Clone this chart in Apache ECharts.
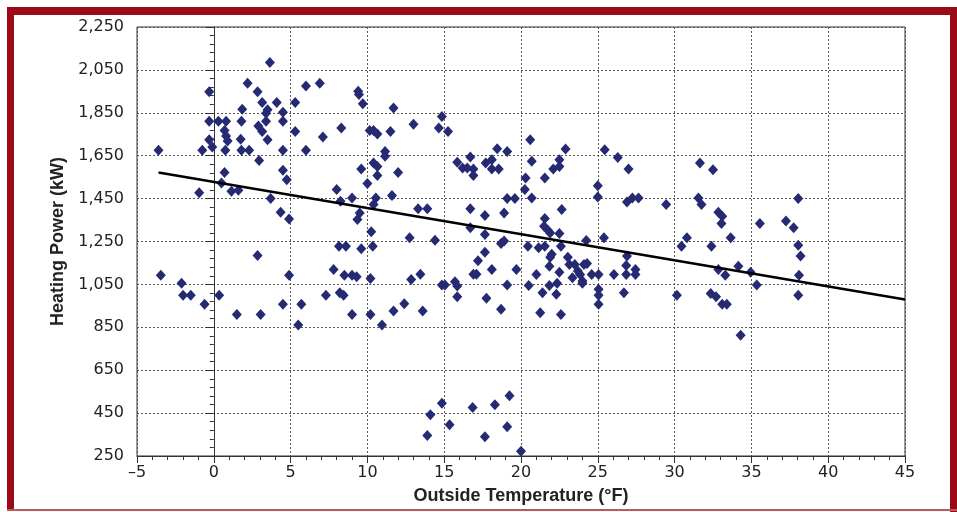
<!DOCTYPE html>
<html>
<head>
<meta charset="utf-8">
<title>Heating Power vs Outside Temperature</title>
<script src="https://cdn.jsdelivr.net/npm/echarts@6/dist/echarts.min.js"></script>
<style>
  html, body { margin: 0; padding: 0; background: #fff; }
  #chart { width: 957px; height: 512px; }
</style>
</head>
<body>
<div id="chart"></div>
<script>
// outside temperature (°F) of each reading
const tempF = [
  -3.6, -0.75, -0.95, -0.3, -0.3, -0.3, -0.1, 0.3, 0.8, 0.7, 0.8, 0.9, 0.75, 0.7, 0.5, 1.15, 1.6,
  1.85, 1.8, 1.75, 1.8, 2.3, 2.2, 2.85, 3.15, 2.9, 3.15, 3.5, 3.4, 3.4, 3.5, 2.95, 3.65, 4.1, 4.5,
  4.5, 4.5, 4.5, 4.75, 3.7, 4.35, 4.9, 5.3, 5.3, 6.0, 6.9, 6.0, 7.1, 2.85,
  -3.45, -2.1, -2.0, -1.5, -0.6, 0.35, 1.5, 3.05, 4.5, 4.9, 5.7, 5.5, 7.3,
  9.4, 9.45, 9.7, 11.7, 8.3, 10.15, 10.4, 10.65, 11.5, 13.0, 14.85, 14.65, 15.25, 11.15, 11.15,
  10.4, 10.65, 9.6, 12.0, 10.65, 10.0, 8.0, 8.25, 9.0, 10.55, 10.4, 11.6, 9.5, 9.35, 10.25, 12.75,
  14.4, 10.35, 9.6, 8.15, 8.6, 13.3, 13.9, 15.85, 16.2, 16.7, 16.5, 16.9, 16.9, 17.7, 18.1, 18.1,
  18.55, 18.45, 19.1, 16.7, 17.65, 16.7, 17.65, 18.9, 19.1, 19.6, 18.9, 18.7, 17.65, 17.2,
  7.8, 8.5, 9.0, 9.3, 10.2, 8.2, 8.45, 9.0, 10.2, 10.95, 11.7, 12.4, 12.85, 13.45, 13.6, 14.85,
  15.05, 15.7, 15.85, 15.85, 16.9, 17.1, 18.1, 17.75, 18.7, 19.1, 19.7, 14.85, 14.1, 13.9, 15.35,
  16.85, 17.65, 18.3, 19.25, 19.1,
  20.5, 21.4, 21.85, 22.35, 22.3, 24.0, 21.25, 22.6, 25.05, 25.05, 25.05, 26.7, 30.15, 32.35,
  32.7, 20.0,
  20.6, 22.9, 20.7, 22.5, 22.5, 22.1, 20.3, 21.55, 20.25, 20.7, 22.65, 25.45, 26.3, 27.0, 25.0,
  25.0, 26.9, 27.25, 27.65, 29.45, 31.65, 31.55, 31.75, 21.55, 21.5, 21.75, 21.9, 22.5, 24.25,
  25.4, 20.45, 21.15, 21.55, 22.6, 22.0, 21.9, 21.85, 23.05, 23.15, 23.5, 24.1, 24.3, 23.7,
  23.85, 23.35, 24.0, 24.6, 25.05, 22.5, 21.0, 26.9, 26.85, 27.45, 26.85, 27.45, 26.05, 30.45,
  30.8,
  32.5, 32.85, 33.1, 33.05, 33.65, 32.4, 35.55, 37.25, 37.75, 38.05, 38.05, 38.2, 38.1, 38.05,
  34.15, 34.95, 35.35, 32.85, 33.3, 33.1, 33.4, 34.3
];

// heating power (kW) of each reading, same order as tempF
const powerKW = [
  1675, 1675, 1477, 1948, 1811, 1724, 1690, 1811, 1811, 1768, 1742, 1718, 1675, 1572, 1523, 1484, 1489,
  1867, 1811, 1727, 1675, 1675, 1988, 1948, 1898, 1789, 1763, 1864, 1848, 1811, 1724, 1628, 2084, 1898, 1853,
  1811, 1675, 1582, 1538, 1450, 1386, 1355, 1898, 1763, 1975, 1988, 1675, 1737, 1185,
  1093, 1055, 999, 999, 957, 999, 910, 910, 957, 1093, 957, 861, 999,
  1950, 1935, 1892, 1872, 1779, 1768, 1768, 1751, 1763, 1797, 1833, 1779, 1763, 1670, 1647,
  1616, 1600, 1588, 1572, 1558, 1520, 1492, 1438, 1453, 1453, 1422, 1465, 1383, 1352, 1295, 1267,
  1256, 1228, 1216, 1228, 1228, 1403, 1403, 1620, 1593, 1644, 1593, 1588, 1558, 1616, 1631, 1588,
  1588, 1682, 1670, 1403, 1371, 1314, 1283, 1383, 1450, 1450, 1252, 1241, 1200, 1160,
  1120, 1093, 1093, 1086, 1078, 1011, 999, 910, 910, 861, 926, 960, 1073, 1097, 926, 1047,
  1047, 1062, 1042, 993, 1097, 1097, 1120, 985, 934, 1047, 1120, 496, 442, 345, 396,
  476, 340, 489, 531, 386,
  1045, 1011, 1045, 1055, 1004, 1055, 918, 910, 1027, 999, 957, 1011, 999, 1008,
  993, 272,
  1724, 1681, 1624, 1631, 1600, 1588, 1546, 1546, 1492, 1453, 1399, 1678, 1642, 1588, 1510,
  1458, 1434, 1453, 1453, 1422, 1616, 1453, 1422, 1357, 1321, 1303, 1290, 1287, 1255,
  1267, 1228, 1221, 1228, 1228, 1190, 1177, 1135, 1177, 1143, 1143, 1143, 1148, 1112,
  1096, 1081, 1066, 1096, 1096, 1107, 1096, 1182, 1138, 1120, 1096, 1096, 1096, 1228,
  1267,
  1585, 1386, 1368, 1334, 1267, 1228, 1334, 1345, 1314, 1450, 1233, 1182, 1093, 999,
  1135, 1107, 1047, 1120, 1093, 957, 957, 813
];

// linear trend line, read at its two ends
const trendTemp = [-3.6, 45];
const trendPower = [1572, 980];

// axis ranges / ticks
const xTicks = { min: -5, max: 45, step: 5 };
const yTicks = { min: 250, max: 2250, step: 200 };

const points = tempF.map((t, i) => [t, powerKW[i]]);
const trend = trendTemp.map((t, i) => [t, trendPower[i]]);

const frameColor = '#9b0a17';
const axisColor = '#333';
const labelFont = 'DejaVu Sans';
const titleFont = 'Liberation Sans, Arial, sans-serif';

let chart = echarts.init(document.getElementById('chart'), null, { renderer: 'canvas' });

chart.setOption({
    animation: false,
    backgroundColor: '#fff',
    // red frame round the figure
    graphic: [
        { type: 'rect', shape: { x: 7, y: 7, width: 950, height: 8 }, style: { fill: frameColor }, silent: true },
        { type: 'rect', shape: { x: 7, y: 7, width: 7, height: 504 }, style: { fill: frameColor }, silent: true },
        { type: 'rect', shape: { x: 950, y: 7, width: 7, height: 505 }, style: { fill: frameColor }, silent: true },
        { type: 'rect', shape: { x: 7, y: 509, width: 950, height: 2 }, style: { fill: '#b85a60' }, silent: true }
    ],
    grid: {
        left: 137,
        right: 52,
        top: 27,
        bottom: 56,
        show: true,
        borderColor: axisColor,
        borderWidth: 1
    },
    xAxis: {
        type: 'value',
        min: xTicks.min,
        max: xTicks.max,
        interval: xTicks.step,
        name: 'Outside Temperature (°F)',
        nameLocation: 'middle',
        nameGap: 31,
        nameTextStyle: { fontFamily: titleFont, fontWeight: 'bold', fontSize: 18, color: '#222' },
        axisLine: { show: true, lineStyle: { color: axisColor, width: 1 } },
        axisTick: { show: true, inside: false, length: 7, lineStyle: { color: axisColor } },
        minorTick: { show: true, splitNumber: 5, length: 4, lineStyle: { color: axisColor } },
        splitLine: { show: true, lineStyle: { color: '#555', type: [2, 2], width: 1 } },
        axisLabel: {
            fontFamily: labelFont,
            fontSize: 16,
            color: '#222',
            margin: 9,
            formatter: v => (v < 0 ? '\u2013' + Math.abs(v) : String(v))
        }
    },
    yAxis: {
        type: 'value',
        min: yTicks.min,
        max: yTicks.max,
        interval: yTicks.step,
        name: 'Heating Power (kW)',
        nameLocation: 'middle',
        nameGap: 62,
        nameTextStyle: { fontFamily: titleFont, fontWeight: 'bold', fontSize: 18, color: '#222' },
        axisLine: { show: true, lineStyle: { color: axisColor, width: 1 } },
        axisTick: { show: true, inside: false, length: 8, lineStyle: { color: axisColor } },
        minorTick: { show: true, splitNumber: 5, length: 4, lineStyle: { color: axisColor } },
        splitLine: { show: true, lineStyle: { color: '#555', type: [2, 2], width: 1 } },
        axisLabel: {
            fontFamily: labelFont,
            fontSize: 16,
            color: '#222',
            margin: 13,
            formatter: v => v.toLocaleString('en-US')
        }
    },
    series: [
        {
            type: 'scatter',
            data: points,
            symbol: 'diamond',
            symbolSize: [10, 11],
            itemStyle: { color: '#252a72', opacity: 1 },
            z: 2
        },
        {
            type: 'line',
            data: trend,
            symbol: 'none',
            lineStyle: { color: '#000', width: 2.5 },
            z: 3
        }
    ]
});
</script>
</body>
</html>
